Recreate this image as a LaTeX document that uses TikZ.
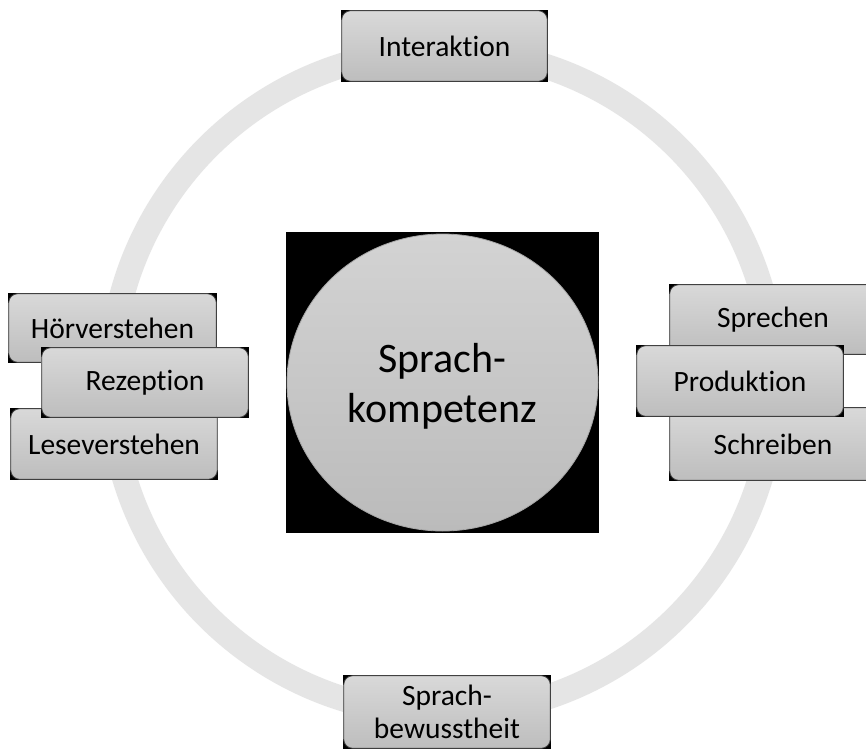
\documentclass[tikz,border=0pt]{standalone}
\usepackage{fontspec}
\setmainfont[Ligatures=NoCommon]{Carlito}
\usetikzlibrary{shapes.geometric}
\definecolor{ringgray}{HTML}{E5E5E5}
\definecolor{boxtop}{HTML}{D9D9D9}
\definecolor{boxbot}{HTML}{BDBDBD}
\definecolor{boxedge}{HTML}{3C3C3C}
\definecolor{ctop}{HTML}{D3D3D3}
\definecolor{cbot}{HTML}{BBBBBB}
\tikzset{
  box/.style={rectangle, fill=black, inner sep=0pt,
    minimum width=208pt, minimum height=71pt,
    font=\fontsize{29.5}{33}\selectfont, align=center, text=black,
    path picture={\shade[top color=boxtop, bottom color=boxbot, draw=boxedge,
      line width=0.8pt, rounded corners=9pt]
      ([shift={(0.7pt,-0.7pt)}]path picture bounding box.north west) rectangle
      ([shift={(-0.7pt,0.7pt)}]path picture bounding box.south east);}},
  blackbg/.style={rectangle, fill=black, inner sep=0pt},
  core/.style={ellipse, inner sep=0pt, top color=ctop, bottom color=cbot,
    draw=gray!70, line width=0.8pt,
    font=\fontsize{42}{50}\selectfont, align=center, text=black}
}
\begin{document}
\begin{tikzpicture}[x=1pt,y=-1pt]
\useasboundingbox (0,0) rectangle (866,749);
\clip (0,0) rectangle (866,749);
\fill[white] (0,0) rectangle (866,749);
% ring
\draw[ringgray, line width=25pt] (442.5,382) circle[radius=332pt];
% centre
\node[blackbg, minimum width=313pt, minimum height=301pt] (kernbg) at (442.5,382.5) {};
\node[core, minimum width=311pt, minimum height=297pt] (kern) at (442.5,382.5) {};
\node[font=\fontsize{42}{50}\selectfont, align=center, inner sep=0pt] (kerntext) at (442.5,386) {Sprach-\\kompetenz};
% top and bottom
\node[box, minimum width=207pt, minimum height=72pt] (interaktion) at (444.5,46) {Interaktion};
\node[box, minimum height=74pt] (bewusst) at (447,712) {Sprach-\\bewusstheit};
% left group
\node[box, minimum width=209pt, minimum height=70pt] (hoer) at (112.5,328) {Hörverstehen};
\node[box, minimum height=72pt] (lese) at (114,444) {Leseverstehen};
\node[box] (rezeption) at (145,382.5) {Rezeption};
% right group
\node[box] (sprechen) at (773,319.5) {Sprechen};
\node[box, minimum height=74pt] (schreiben) at (773,444) {Schreiben};
\node[box, minimum height=72pt] (produktion) at (740,381) {Produktion};
\end{tikzpicture}
\end{document}
